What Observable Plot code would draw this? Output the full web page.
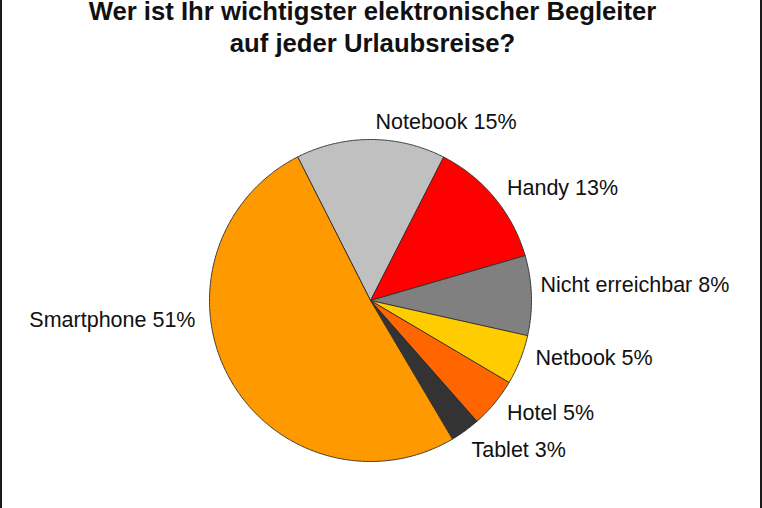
<!DOCTYPE html>
<html><head><meta charset="utf-8">
<script src="https://cdn.jsdelivr.net/npm/d3@7"></script>
<script src="https://cdn.jsdelivr.net/npm/@observablehq/plot@0.6"></script>
<style>
body{margin:0;background:#fff;}
#wrap{position:relative;width:762px;height:508px;overflow:hidden;background:#fff;font-family:"Liberation Sans",Arial,sans-serif;}
#title{position:relative;top:-5px;width:745px;height:57px;text-align:center;font-weight:bold;font-size:25.7px;line-height:32px;color:#111;white-space:nowrap;}
.edge{position:absolute;top:0;bottom:0;width:2px;background:#1a1a1a;}
</style></head><body>
<div id="wrap">
<div id="title">Wer ist Ihr wichtigster elektronischer Begleiter<br>auf jeder Urlaubsreise?</div>
<div id="chart"></div>
<div class="edge" style="left:0"></div><div class="edge" style="right:0"></div>
</div>
<script>
const categories = ["Notebook", "Handy", "Nicht erreichbar", "Netbook", "Hotel", "Tablet", "Smartphone"];
const values = [15, 13, 8, 5, 5, 3, 51];
const colors = ["#C0C0C0", "#FF0000", "#808080", "#FFCC00", "#FF6600", "#333333", "#FF9900"];

const total = d3.sum(values);
const startDeg = -values[0] / total * 180; // first slice centred at top
const slices = [];
const outline = [];
let acc = startDeg;
categories.forEach((c, i) => {
  const span = values[i] / total * 360;
  const a0 = acc, a1 = acc + span;
  acc = a1;
  outline.push({cat: c, u: 0, v: 0});
  const n = Math.max(2, Math.ceil(span * 2));
  for (let k = 0; k <= n; k++) {
    const a = (a0 + (a1 - a0) * k / n) * Math.PI / 180;
    outline.push({cat: c, u: Math.sin(a), v: Math.cos(a)});
  }
  const mid = (a0 + a1) / 2 * Math.PI / 180;
  slices.push({cat: c, label: `${c} ${values[i]}%`, lu: 1.1 * Math.sin(mid), lv: 1.1 * Math.cos(mid)});
});
// manual label placement adjustments (as in the reference)
const labelOverride = {
  "Notebook": [0.031, 1.106],
  "Nicht erreichbar": [1.056, 0.093],
  "Netbook": [1.025, -0.36],
  "Tablet": [0.627, -0.932],
  "Smartphone": [-1.087, -0.124]
};
slices.forEach(s => { if (labelOverride[s.cat]) { [s.lu, s.lv] = labelOverride[s.cat]; } });

const R = 161, cx = 370, cy = 243, W = 762, H = 451;
const chart = Plot.plot({
  width: W, height: H,
  margin: 0,
  style: {background: "transparent", overflow: "visible"},
  x: {domain: [-cx / R, (W - cx) / R], axis: null},
  y: {domain: [-(H - cy) / R, cy / R], axis: null},
  color: {domain: categories, range: colors},
  marks: [
    Plot.line(outline, {x: "u", y: "v", z: "cat", fill: "cat", stroke: "#2a2a2a", strokeWidth: 0.9, curve: "linear-closed"}),
    Plot.text(slices.filter(s => s.lu >= 0), {x: "lu", y: "lv", text: "label", textAnchor: "start", fontSize: 21.5, fill: "#111", fontFamily: "Liberation Sans, Arial, sans-serif"}),
    Plot.text(slices.filter(s => s.lu < 0), {x: "lu", y: "lv", text: "label", textAnchor: "end", fontSize: 21.5, fill: "#111", fontFamily: "Liberation Sans, Arial, sans-serif"})
  ]
});
document.getElementById("chart").appendChild(chart);
</script>
</body></html>
